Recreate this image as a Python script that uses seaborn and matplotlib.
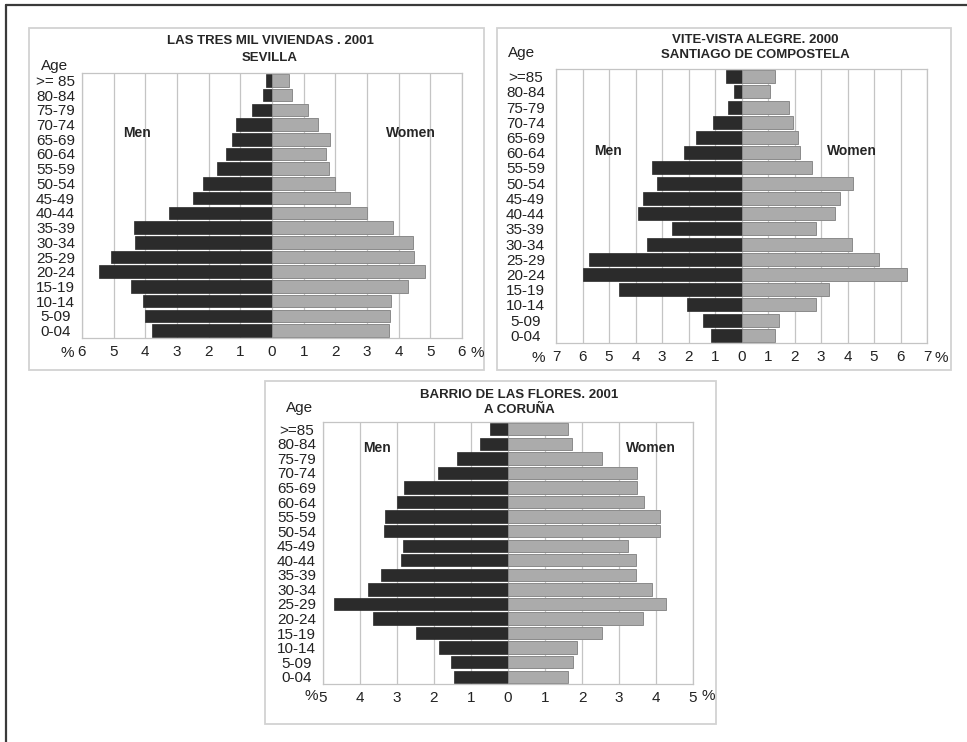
import matplotlib
matplotlib.use("Agg")
import matplotlib.pyplot as plt
import seaborn as sns
import pandas as pd
from matplotlib.patches import Rectangle
from matplotlib.lines import Line2D

# Données (en % de la population, classes d'âge du plus âgé au plus jeune)
AGES = ["85", "80-84", "75-79", "70-74", "65-69", "60-64", "55-59", "50-54",
        "45-49", "40-44", "35-39", "30-34", "25-29", "20-24", "15-19",
        "10-14", "5-09", "0-04"]

SEV_MEN = [0.2, 0.27, 0.62, 1.15, 1.26, 1.45, 1.73, 2.18, 2.49, 3.25, 4.36,
           4.32, 5.08, 5.46, 4.44, 4.08, 4.02, 3.78]
SEV_WOMEN = [0.54, 0.64, 1.15, 1.45, 1.83, 1.72, 1.79, 1.98, 2.45, 3.01,
             3.81, 4.46, 4.49, 4.84, 4.31, 3.77, 3.74, 3.71]

SCQ_MEN = [0.59, 0.28, 0.5, 1.09, 1.73, 2.18, 3.37, 3.18, 3.73, 3.9, 2.64,
           3.58, 5.76, 6.0, 4.63, 2.05, 1.45, 1.14]
SCQ_WOMEN = [1.26, 1.09, 1.8, 1.95, 2.13, 2.22, 2.67, 4.2, 3.7, 3.53, 2.8,
             4.17, 5.17, 6.26, 3.3, 2.8, 1.4, 1.26]

COR_MEN = [0.48, 0.75, 1.37, 1.89, 2.8, 2.99, 3.32, 3.36, 2.84, 2.9, 3.42,
           3.78, 4.7, 3.66, 2.48, 1.86, 1.53, 1.46]
COR_WOMEN = [1.62, 1.72, 2.54, 3.49, 3.49, 3.68, 4.11, 4.11, 3.23, 3.45,
             3.45, 3.88, 4.27, 3.65, 2.54, 1.86, 1.76, 1.62]

DARK = "#2b2b2b"
LIGHT = "#ababab"
GRID = "#c4c4c4"

sns.set_theme(style="white")
plt.rcParams["font.family"] = ["Liberation Sans", "DejaVu Sans"]

W, H = 967, 742
fig = plt.figure(figsize=(W / 100, H / 100), dpi=100)
fig.patch.set_facecolor("white")


def fx(x):
    return x / W


def fy(y):
    return 1 - y / H


def ftext(x, y, s, **kw):
    kw.setdefault("ha", "center")
    kw.setdefault("va", "center")
    fig.text(fx(x), fy(y), s, **kw)


def pyramid(box, plot, title, top_label, men, women, xmax, pad,
            age_xy, men_xy, women_xy, pct_l, pct_r):
    # cadre du panneau
    x0, y0, x1, y1 = box
    fig.add_artist(Rectangle((fx(x0), fy(y1)), fx(x1 - x0), (y1 - y0) / H,
                             transform=fig.transFigure, fill=False,
                             edgecolor="#d2d2d2", linewidth=1.3))
    px0, py0, px1, py1 = plot
    ax = fig.add_axes([fx(px0), fy(py1), fx(px1 - px0), (py1 - py0) / H])

    labels = [top_label] + AGES[1:]
    df = pd.DataFrame({"age": labels * 2,
                       "value": [-v for v in men] + list(women),
                       "sex": ["Men"] * len(men) + ["Women"] * len(women)})
    sns.barplot(data=df[df.sex == "Men"], x="value", y="age", order=labels,
                color=DARK, edgecolor=DARK, linewidth=0.5, width=0.85,
                saturation=1, orient="h", ax=ax)
    sns.barplot(data=df[df.sex == "Women"], x="value", y="age", order=labels,
                color=LIGHT, edgecolor="#8a8a8a", linewidth=0.7, width=0.85,
                saturation=1, orient="h", ax=ax)

    ticks = list(range(-xmax, xmax + 1))
    ax.set_xlim(-xmax, xmax)
    ax.set_xticks(ticks)
    ax.set_xticklabels([str(abs(t)) for t in ticks])
    ax.grid(axis="x", color=GRID, linewidth=0.9)
    ax.set_axisbelow(True)
    ax.set_xlabel("")
    ax.set_ylabel("")
    ax.tick_params(axis="x", length=0, pad=5, labelsize=11, colors="#222")
    ax.tick_params(axis="y", length=0, pad=pad, labelsize=11, colors="#222")
    for lbl in ax.get_yticklabels():
        lbl.set_ha("center")
    for s in ax.spines.values():
        s.set_color(GRID)
        s.set_linewidth(0.9)

    tx = (px0 + px1) / 2 + title[2]
    ftext(tx, title[3], title[0], fontsize=9.5, fontweight="bold")
    ftext(tx, title[4], title[1], fontsize=9.5, fontweight="bold")
    ftext(*age_xy, "Age", fontsize=11, color="#222")
    ftext(*men_xy, "Men", fontsize=10, fontweight="bold")
    ftext(*women_xy, "Women", fontsize=10, fontweight="bold")
    ftext(*pct_l, "%", fontsize=11, color="#222")
    ftext(*pct_r, "%", fontsize=11, color="#222")
    return ax


pyramid((29, 28, 484, 370), (82, 73, 462, 338),
        ("LAS TRES MIL VIVIENDAS . 2001", "SEVILLA", -2, 41, 58),
        ">= 85", SEV_MEN, SEV_WOMEN, 6, 19,
        (55, 66), (137, 133), (411, 133), (67, 353), (477, 353))

pyramid((497, 28, 951, 370), (556, 69, 927, 343),
        ("VITE-VISTA ALEGRE. 2000", "SANTIAGO DE COMPOSTELA", 14, 40, 55),
        ">=85", SCQ_MEN, SCQ_WOMEN, 7, 22,
        (522, 53), (608, 151), (852, 151), (538, 358), (941, 358))

pyramid((265, 381, 716, 724), (323, 422, 693, 684),
        ("BARRIO DE LAS FLORES. 2001", "A CORUÑA", 11, 395, 410),
        ">=85", COR_MEN, COR_WOMEN, 5, 19,
        (300, 408), (377, 448), (651, 448), (311, 696), (708, 696))

# cadre extérieur (haut et gauche seulement)
fig.add_artist(Line2D([fx(6), 1], [fy(5), fy(5)], transform=fig.transFigure,
                      color="#3a3a3a", linewidth=1.6))
fig.add_artist(Line2D([fx(6), fx(6)], [fy(5), 0], transform=fig.transFigure,
                      color="#3a3a3a", linewidth=1.6))

fig.savefig("out.png", dpi=100, facecolor="white")
